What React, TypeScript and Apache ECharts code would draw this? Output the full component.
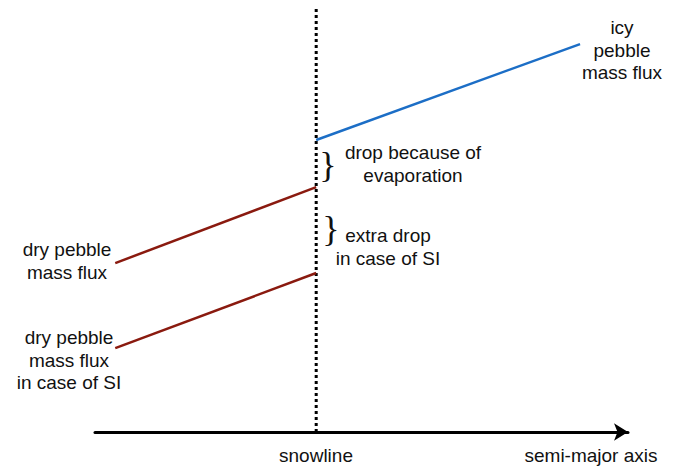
import React, { useEffect, useRef } from "react";
import * as echarts from "echarts";

// x: semi-major axis (arbitrary units), y: pebble mass flux (arbitrary units)
const snowlineX = 4.15;
const innerX = 0.38;
const outerX = 9.1;
const icyFlux = [6.76, 8.98];
const dryFlux = [3.91, 5.67];
const dryFluxSI = [1.94, 3.68];
const snowlineTop = 9.81;

const BLUE = "#1c6ec6";
const RED = "#8a1a0f";
const FONT = "'Liberation Sans', Arial, Helvetica, sans-serif";

export default function App() {
  const ref = useRef<HTMLDivElement>(null);
  useEffect(() => {
    if (!ref.current) return;
    const chart = echarts.init(ref.current, null, { renderer: "svg" });
    const txt = (x: number, y: number, text: string, align = "center") => ({
      type: "text",
      x,
      y,
      silent: true,
      style: {
        text,
        fill: "#111",
        font: `19px ${FONT}`,
        align,
        verticalAlign: "middle",
        lineHeight: 22.5,
      },
    });
    const brace = (x: number, y: number) => ({
      type: "text",
      x,
      y,
      silent: true,
      style: {
        text: "}",
        fill: "#111",
        font: `36px 'Liberation Serif', 'Times New Roman', serif`,
        align: "center",
        verticalAlign: "middle",
      },
    });
    chart.setOption({
      animation: false,
      backgroundColor: "#ffffff",
      grid: { left: 95, right: 58, top: 0, bottom: 34 },
      xAxis: {
        type: "value",
        min: 0,
        max: 10,
        axisLine: {
          show: true,
          symbol: ["none", "arrow"],
          symbolSize: [13, 14],
          lineStyle: { color: "#000", width: 3 },
        },
        axisTick: { show: false },
        axisLabel: { show: false },
        splitLine: { show: false },
      },
      yAxis: {
        type: "value",
        min: 0,
        max: 10,
        show: false,
        splitLine: { show: false },
      },
      series: [
        {
          type: "line",
          data: [
            [snowlineX, 0],
            [snowlineX, snowlineTop],
          ],
          symbol: "none",
          lineStyle: { color: "#000", width: 3, type: [3, 3] },
          z: 1,
        },
        {
          type: "line",
          data: [
            [snowlineX, icyFlux[0]],
            [outerX, icyFlux[1]],
          ],
          symbol: "none",
          lineStyle: { color: BLUE, width: 2.5 },
          z: 2,
        },
        {
          type: "line",
          data: [
            [innerX, dryFlux[0]],
            [snowlineX, dryFlux[1]],
          ],
          symbol: "none",
          lineStyle: { color: RED, width: 2.5 },
          z: 2,
        },
        {
          type: "line",
          data: [
            [innerX, dryFluxSI[0]],
            [snowlineX, dryFluxSI[1]],
          ],
          symbol: "none",
          lineStyle: { color: RED, width: 2.5 },
          z: 2,
        },
      ],
      graphic: [
        txt(622, 50, "icy\npebble\nmass flux"),
        txt(67, 261, "dry pebble\nmass flux"),
        txt(69, 360, "dry pebble\nmass flux\nin case of SI"),
        txt(413, 164, "drop because of\nevaporation"),
        txt(388, 247, "extra drop\nin case of SI"),
        txt(316, 455, "snowline"),
        txt(591, 455, "semi-major axis"),
        brace(328, 165),
        brace(331, 229),
      ],
    });
    return () => chart.dispose();
  }, []);
  return (
    <div
      ref={ref}
      style={{ position: "fixed", left: 0, top: 0, width: 686, height: 466 }}
    />
  );
}
